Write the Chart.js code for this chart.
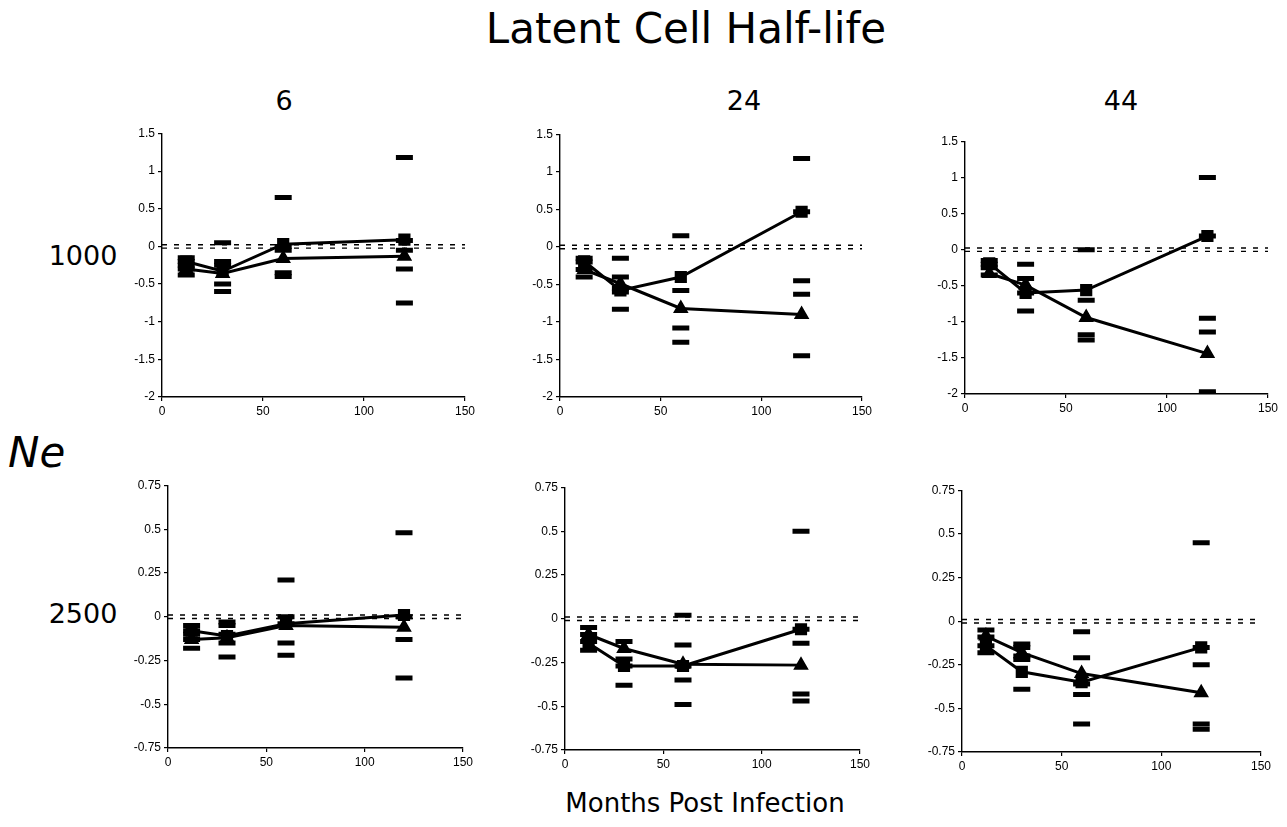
<!DOCTYPE html>
<html>
<head>
<meta charset="utf-8">
<script src="https://cdn.jsdelivr.net/npm/chart.js@4.4.1/dist/chart.umd.min.js"></script>
<style>
  body { margin: 0; background: #fff; width: 1287px; height: 827px; position: relative; overflow: hidden; }
  canvas { position: absolute; }
  .lbl { position: absolute; font-family: "DejaVu Sans", sans-serif; color: #000; line-height: 1; white-space: nowrap; }
</style>
</head>
<body>
<div class="lbl" style="font-size:42px; left:686px; top:8px; transform:translateX(-50%);">Latent Cell Half-life</div>
<div class="lbl" style="font-size:27px; left:284px; top:87px; transform:translateX(-50%);">6</div>
<div class="lbl" style="font-size:27px; left:744px; top:87px; transform:translateX(-50%);">24</div>
<div class="lbl" style="font-size:27px; left:1121px; top:87px; transform:translateX(-50%);">44</div>
<div class="lbl" style="font-size:27px; left:83px; top:242px; transform:translateX(-50%);">1000</div>
<div class="lbl" style="font-size:27px; left:83px; top:600px; transform:translateX(-50%);">2500</div>
<div class="lbl" style="font-size:42px; left:8px; top:432px; font-style:italic;">Ne</div>
<div class="lbl" style="font-size:26px; left:705px; top:790px; transform:translateX(-50%);">Months Post Infection</div>

<canvas id="p1"></canvas>
<canvas id="p2"></canvas>
<canvas id="p3"></canvas>
<canvas id="p4"></canvas>
<canvas id="p5"></canvas>
<canvas id="p6"></canvas>

<script>
// sampling times (months post infection)
const months = [12, 30, 60, 120];

// Ne = 1000, half-life 6
const squareNe1000HL6 = [-0.2, -0.33, 0.03, 0.09];
const triangleNe1000HL6 = [-0.3, -0.36, -0.16, -0.13];
const dashesNe1000HL6 = [[-0.15, -0.2, -0.25, -0.3, -0.38], [0.05, -0.2, -0.25, -0.5, -0.6], [0.65, 0.0, -0.05, -0.35, -0.4], [1.18, 0.08, -0.05, -0.3, -0.75]];

// Ne = 1000, half-life 24
const squareNe1000HL24 = [-0.19, -0.58, -0.4, 0.47];
const triangleNe1000HL24 = [-0.3, -0.49, -0.82, -0.9];
const dashesNe1000HL24 = [[-0.15, -0.2, -0.3, -0.4], [-0.15, -0.4, -0.55, -0.6, -0.83], [0.15, -0.58, -1.08, -1.27], [1.18, 0.47, -0.45, -0.63, -1.45]];

// Ne = 1000, half-life 44
const squareNe1000HL44 = [-0.19, -0.6, -0.56, 0.19];
const triangleNe1000HL44 = [-0.33, -0.49, -0.94, -1.44];
const dashesNe1000HL44 = [[-0.15, -0.2, -0.25, -0.35], [-0.2, -0.4, -0.6, -0.85], [0, -0.7, -1.18, -1.25], [1.0, 0.19, -0.95, -1.14, -1.97, -2.0]];

// Ne = 2500, half-life 6
const squareNe2500HL6 = [-0.08, -0.11, -0.04, 0.01];
const triangleNe2500HL6 = [-0.13, -0.12, -0.05, -0.06];
const dashesNe2500HL6 = [[-0.05, -0.08, -0.1, -0.13, -0.18], [-0.03, -0.05, -0.1, -0.15, -0.23], [0.21, 0, -0.04, -0.15, -0.22], [0.48, 0, -0.13, -0.35]];

// Ne = 2500, half-life 24
const squareNe2500HL24 = [-0.14, -0.27, -0.27, -0.06];
const triangleNe2500HL24 = [-0.09, -0.17, -0.26, -0.265];
const dashesNe2500HL24 = [[-0.05, -0.09, -0.13, -0.18], [-0.13, -0.23, -0.27, -0.38], [0.02, -0.15, -0.27, -0.35, -0.49], [0.5, -0.06, -0.14, -0.43, -0.47]];

// Ne = 2500, half-life 44
const squareNe2500HL44 = [-0.14, -0.29, -0.35, -0.15];
const triangleNe2500HL44 = [-0.085, -0.18, -0.3, -0.41];
const dashesNe2500HL44 = [[-0.05, -0.09, -0.14, -0.18], [-0.13, -0.15, -0.2, -0.22, -0.39], [-0.06, -0.21, -0.36, -0.42, -0.59], [0.45, -0.15, -0.25, -0.59, -0.62]];

const topRowTicks = { min: -2, max: 1.5, step: 0.5 };
const bottomRowTicks = { min: -0.75, max: 0.75, step: 0.25 };

const Y_W = 42, X_H = 27, PAD_T = 9, PAD_R = 16;

// dashed double line at zero
const zeroLinePlugin = {
  id: "zeroLine",
  beforeDatasetsDraw(chart) {
    const { ctx, chartArea, scales } = chart;
    const y0 = scales.y.getPixelForValue(0);
    ctx.save();
    ctx.strokeStyle = "#000";
    ctx.lineWidth = 1.4;
    ctx.setLineDash([5, 7]);
    [-1.7, 1.7].forEach(off => {
      ctx.beginPath();
      ctx.moveTo(chartArea.left, y0 + off);
      ctx.lineTo(chartArea.right, y0 + off);
      ctx.stroke();
    });
    ctx.restore();
  }
};

function toPoints(values) {
  return months.map((m, i) => ({ x: m, y: values[i] }));
}

function dashPoints(groups) {
  const pts = [];
  groups.forEach((g, i) => g.forEach(v => pts.push({ x: months[i], y: v })));
  return pts;
}

function makePanel(id, box, squares, triangles, dashes, yTicks) {
  const canvas = document.getElementById(id);
  canvas.width = Y_W + (box.right - box.left) + PAD_R;
  canvas.height = PAD_T + (box.bottom - box.top) + X_H;
  canvas.style.left = (box.left - Y_W) + "px";
  canvas.style.top = (box.top - PAD_T) + "px";

  const tickFont = { family: "'Liberation Sans', Arial, sans-serif", size: 12 };
  const axisGrid = { drawOnChartArea: false, drawTicks: true, tickLength: 4, color: "#000", lineWidth: 1.2 };

  return new Chart(canvas.getContext("2d"), {
    type: "scatter",
    data: {
      datasets: [
        {
          type: "line",
          data: toPoints(squares),
          borderColor: "#000",
          backgroundColor: "#000",
          borderWidth: 3,
          pointStyle: "rect",
          pointRadius: 6.5,
          fill: false,
        },
        {
          type: "line",
          data: toPoints(triangles),
          borderColor: "#000",
          backgroundColor: "#000",
          borderWidth: 3,
          pointStyle: "triangle",
          pointRadius: 6,
          fill: false,
        },
        {
          data: dashPoints(dashes),
          borderColor: "#000",
          backgroundColor: "#000",
          pointStyle: "line",
          pointRadius: 8.5,
          borderWidth: 5,
        },
      ],
    },
    options: {
      responsive: false,
      animation: false,
      layout: { padding: { top: PAD_T, right: PAD_R, left: 0, bottom: 0 } },
      plugins: { legend: { display: false }, tooltip: { enabled: false } },
      scales: {
        x: {
          type: "linear",
          min: 0,
          max: 150,
          afterFit: s => { s.height = X_H; },
          ticks: { stepSize: 50, color: "#000", font: tickFont, padding: 3, maxRotation: 0 },
          grid: axisGrid,
          border: { color: "#000", width: 1.4 },
        },
        y: {
          type: "linear",
          min: yTicks.min,
          max: yTicks.max,
          afterFit: s => { s.width = Y_W; },
          ticks: {
            stepSize: yTicks.step,
            color: "#000",
            font: tickFont,
            padding: 3,
            callback: v => String(+v.toFixed(2)),
          },
          grid: axisGrid,
          border: { color: "#000", width: 1.4 },
        },
      },
    },
    plugins: [zeroLinePlugin],
  });
}

makePanel("p1", { left: 162, top: 129, right: 465, bottom: 397 }, squareNe1000HL6, triangleNe1000HL6, dashesNe1000HL6, topRowTicks);
makePanel("p2", { left: 560, top: 130, right: 862, bottom: 397 }, squareNe1000HL24, triangleNe1000HL24, dashesNe1000HL24, topRowTicks);
makePanel("p3", { left: 965, top: 137, right: 1268, bottom: 394 }, squareNe1000HL44, triangleNe1000HL44, dashesNe1000HL44, topRowTicks);
makePanel("p4", { left: 168, top: 481, right: 463, bottom: 748 }, squareNe2500HL6, triangleNe2500HL6, dashesNe2500HL6, bottomRowTicks);
makePanel("p5", { left: 565, top: 483, right: 860, bottom: 750 }, squareNe2500HL24, triangleNe2500HL24, dashesNe2500HL24, bottomRowTicks);
makePanel("p6", { left: 962, top: 486, right: 1261, bottom: 752 }, squareNe2500HL44, triangleNe2500HL44, dashesNe2500HL44, bottomRowTicks);
</script>
</body>
</html>
